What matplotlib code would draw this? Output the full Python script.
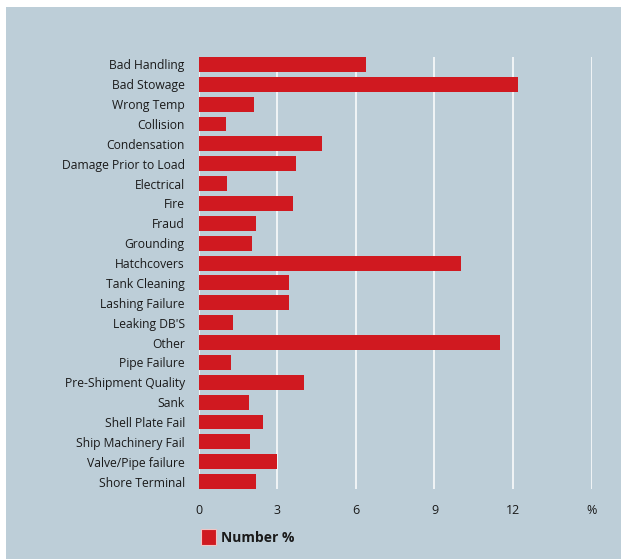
import matplotlib
matplotlib.use("Agg")
import matplotlib.pyplot as plt
from matplotlib.patches import Rectangle, Patch

categories = ["Bad Handling", "Bad Stowage", "Wrong Temp", "Collision", "Condensation",
              "Damage Prior to Load", "Electrical", "Fire", "Fraud", "Grounding",
              "Hatchcovers", "Tank Cleaning", "Lashing Failure", "Leaking DB'S", "Other",
              "Pipe Failure", "Pre-Shipment Quality", "Sank", "Shell Plate Fail",
              "Ship Machinery Fail", "Valve/Pipe failure", "Shore Terminal"]
values = [6.4, 12.2, 2.1, 1.04, 4.7, 3.7, 1.08, 3.6, 2.2, 2.03,
          10.0, 3.45, 3.45, 1.3, 11.5, 1.23, 4.0, 1.92, 2.45, 1.96, 3.0, 2.2]
xticks = [0, 3, 6, 9, 12, 15]
xtick_labels = ["0", "3", "6", "9", "12", "%"]
series_label = "Number %"

BG = "#bdced8"
RED = "#d01920"
TXT = "#1a1a1a"

plt.rcParams['font.family'] = ['Open Sans', 'DejaVu Sans']

W, H = 621, 559
fig = plt.figure(figsize=(W/100, H/100), dpi=100, facecolor="white")
fig.patches.append(Rectangle((6/W, 0), 1 - 6/W, (H - 7)/H, transform=fig.transFigure,
                             facecolor=BG, edgecolor="none", zorder=-10))

ax = fig.add_axes([198.7/W, 70/H, 393/W, 432/H])
ax.set_facecolor(BG)
ax.patch.set_alpha(0)
n = len(categories)
ypos = list(range(n))
ax.barh(ypos, values, height=0.75, color=RED, zorder=3, label=series_label)
ax.set_ylim(n - 1 + 0.375, -0.375)
ax.set_xlim(0, 15)
for x in xticks:
    ax.axvline(x, color="white", lw=1.1, zorder=2)
ax.set_xticks(xticks)
ax.set_xticklabels(xtick_labels)
ax.set_yticks(ypos)
ax.set_yticklabels(categories)
ax.tick_params(axis="both", length=0, colors=TXT)
ax.tick_params(axis="y", pad=10, labelsize=8.7)
ax.tick_params(axis="x", pad=11, labelsize=9)
for s in ax.spines.values():
    s.set_visible(False)

handle = Patch(facecolor=RED, edgecolor="#f2c4c4", lw=0.8)
leg = fig.legend([handle], [series_label], loc="center left",
                 bbox_to_anchor=(200.5/W, (H - 537)/H), bbox_transform=fig.transFigure,
                 frameon=False, borderpad=0, borderaxespad=0,
                 handlelength=1.1, handleheight=1.5, handletextpad=0.4,
                 prop={"weight": "bold", "size": 10})
for t in leg.get_texts():
    t.set_color(TXT)

fig.savefig("out.png", dpi=100, facecolor="white")
